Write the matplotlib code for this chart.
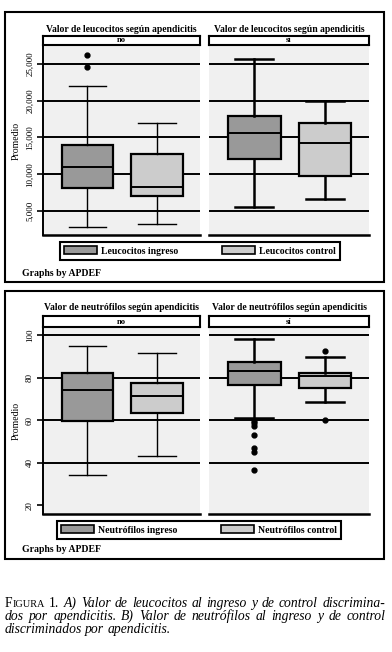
import matplotlib
matplotlib.use("Agg")
import matplotlib.pyplot as plt
from matplotlib.patches import Rectangle, Patch

plt.rcParams['font.family'] = ['Liberation Serif', 'DejaVu Serif']

# data: whislo, q1, median, q3, whishi
groups = ["no", "sí"]
leu_ing_no = [2850, 8100, 10950, 13900, 22000]
leu_ing_no_out = [24500, 26200]
leu_ctl_no = [3250, 7050, 8250, 12700, 17000]
leu_ing_si = [5550, 12050, 15550, 17850, 25700]
leu_ctl_si = [6600, 9750, 14200, 17000, 20000]
leu_ticks = [5000, 10000, 15000, 20000, 25000]
leu_labels = ["5,000", "10,000", "15,000", "20,000", "25,000"]

neu_ing_no = [34, 59.5, 74, 82.3, 95]
neu_ctl_no = [43, 63.3, 71.2, 77.2, 91.6]
neu_ing_si = [60.8, 76.3, 83.3, 87.5, 98]
neu_ing_si_out = [59.5, 58.6, 57.2, 53, 46.9, 45, 36.6]
neu_ctl_si = [68.7, 75.3, 80.5, 81.9, 89.7]
neu_ctl_si_out = [92.5, 60]
neu_ticks = [20, 40, 60, 80, 100]
neu_grid = [40, 60, 80, 100]

W, H = 392, 652
DARK = "#999999"
LIGHT = "#cccccc"
BG = "#f0f0f0"

fig = plt.figure(figsize=(W / 100, H / 100), dpi=100)


def rect(x0, y0, x1, y1):
    return [x0 / W, 1 - y1 / H, (x1 - x0) / W, (y1 - y0) / H]


def stats(v, out=()):
    return dict(whislo=v[0], q1=v[1], med=v[2], q3=v[3], whishi=v[4], fliers=list(out))


def draw_boxes(ax, st_ing, st_ctl, wlw):
    res = ax.bxp([st_ing, st_ctl], positions=[1, 2], widths=0.74, capwidths=0.54,
                 patch_artist=True, manage_ticks=False,
                 boxprops=dict(edgecolor="black", linewidth=1.6),
                 medianprops=dict(color="black", linewidth=1.4),
                 whiskerprops=dict(color="black", linewidth=wlw),
                 capprops=dict(color="black", linewidth=wlw),
                 flierprops=dict(marker="o", markerfacecolor="black", markeredgecolor="black",
                                 markersize=3.5, linestyle="none"))
    res["boxes"][0].set_facecolor(DARK)
    res["boxes"][1].set_facecolor(LIGHT)
    for k in res:
        for a in res[k]:
            a.set_zorder(3)


def style_ax(ax, ylim, grid, left):
    ax.set_facecolor(BG)
    ax.set_xlim(0.36, 2.62)
    ax.set_ylim(*ylim)
    ax.set_xticks([])
    for g in grid:
        ax.axhline(g, color="black", lw=1.4, zorder=1)
    for s in ["top", "right"]:
        ax.spines[s].set_visible(False)
    ax.spines["bottom"].set_linewidth(1.8)
    if left:
        ax.spines["left"].set_linewidth(1.4)
    else:
        ax.spines["left"].set_visible(False)
        ax.set_yticks([])


def strip(y0, y1, x0, x1, label, title, ty):
    s = fig.add_axes(rect(x0, y0, x1, y1))
    s.set_xticks([])
    s.set_yticks([])
    for sp in s.spines.values():
        sp.set_linewidth(1.5)
    s.text(0.5, 0.5, label, ha="center", va="center", fontsize=6, fontweight="bold",
           transform=s.transAxes)
    fig.text((x0 + x1) / 2 / W, 1 - ty / H, title, ha="center", va="center",
             fontsize=6.9, fontweight="bold")


def panel(top, bottom, plot_top, plot_bot, strip_top, title_y, title,
          data, ylim, ticks, labels, grid, leg_names, leg_y, leg_x):
    fig.add_artist(Rectangle((5 / W, 1 - bottom / H), 379 / W, (bottom - top) / H,
                             transform=fig.transFigure, fill=False, lw=1.5, ec="black"))
    xs = [(43, 200), (209, 369)]
    for i, (x0, x1) in enumerate(xs):
        ax = fig.add_axes(rect(x0, plot_top, x1, plot_bot))
        style_ax(ax, ylim, grid, i == 0)
        draw_boxes(ax, data[i][0], data[i][1], 1.0 if i == 0 else 1.8)
        if i == 0:
            ax.set_yticks(ticks)
            ax.set_yticklabels(labels, fontsize=6.5)
            ax.tick_params(axis="y", length=4, width=1.2, pad=2.5, labelrotation=90)
            for lab in ax.get_yticklabels():
                lab.set_va("center")
            ax.set_ylabel("Promedio", fontsize=7, labelpad=4)
        strip(strip_top, plot_top - 1, x0, x1, groups[i], title, title_y)
    handles = [Patch(facecolor=DARK, edgecolor="black", lw=1.2),
               Patch(facecolor=LIGHT, edgecolor="black", lw=1.2)]
    leg = fig.legend(handles, leg_names, loc="center", ncol=2,
                     bbox_to_anchor=(leg_x / W, 1 - leg_y / H),
                     prop=dict(size=7, weight="bold"), fancybox=False,
                     handlelength=3.4, handleheight=0.9, columnspacing=4.5,
                     handletextpad=0.4, borderpad=0.45, framealpha=1)
    leg.get_frame().set_edgecolor("black")
    leg.get_frame().set_linewidth(1.5)
    fig.text(22 / W, 1 - (bottom - 9) / H, "Graphs by APDEF", ha="left", va="center",
             fontsize=7, fontweight="bold")


panel(12, 282, 46, 235, 36, 29, "Valor de leucocitos según apendicitis",
      [(stats(leu_ing_no, leu_ing_no_out), stats(leu_ctl_no)),
       (stats(leu_ing_si), stats(leu_ctl_si))],
      (1750, 27400), leu_ticks, leu_labels, leu_ticks,
      ["Leucocitos ingreso", "Leucocitos control"], 251, 200)

panel(291, 559, 328, 514, 316, 308, "Valor de neutrófilos según apendicitis",
      [(stats(neu_ing_no), stats(neu_ctl_no)),
       (stats(neu_ing_si, neu_ing_si_out), stats(neu_ctl_si, neu_ctl_si_out))],
      (15.8, 103.3), neu_ticks, [str(t) for t in neu_ticks], neu_grid,
      ["Neutrófilos ingreso", "Neutrófilos control"], 530, 199)

# caption, justified word by word
renderer = fig.canvas.get_renderer()
CAP = 9.8


def place_line(y, words, x0, x1, justify):
    pieces = []
    widths = []
    for word in words:
        parts = []
        w = 0
        for txt, size, style in word:
            t = fig.text(0, 1 - y / H, txt, fontsize=size, style=style, va="baseline")
            bb = t.get_window_extent(renderer)
            parts.append((t, bb.width))
            w += bb.width
        pieces.append(parts)
        widths.append(w)
    space = 3.0
    if justify and len(words) > 1:
        space = (x1 - x0 - sum(widths)) / (len(words) - 1)
    x = x0
    for parts, w in zip(pieces, widths):
        for t, pw in parts:
            t.set_x(x / W)
            x += pw
        x += space


def it(s):
    return [[(w, CAP, "italic")] for w in s.split()]


line1 = [[("F", CAP, "normal"), ("IGURA", CAP * 0.75, "normal")], [("1.", CAP, "normal")]] + \
    it("A) Valor de leucocitos al ingreso y de control discrimina-")
line2 = it("dos por apendicitis. B) Valor de neutrófilos al ingreso y de control")
line3 = it("discriminados por apendicitis.")

place_line(607, line1, 5, 385, True)
place_line(620, line2, 5, 385, True)
place_line(633, line3, 5, 385, False)

fig.savefig("out.png", dpi=100)
